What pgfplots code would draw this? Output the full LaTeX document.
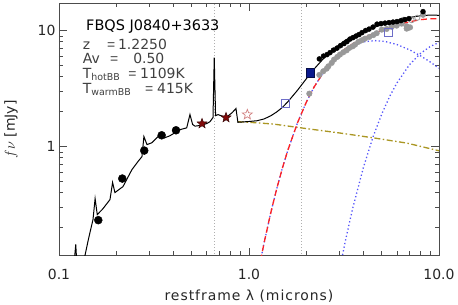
\documentclass[border=0pt]{standalone}
\usepackage{fontspec}
\setmainfont{DejaVu Sans}
\newfontfamily\arialf{Liberation Sans}
\usepackage{pgfplots}
\pgfplotsset{compat=1.18}
\definecolor{olivel}{RGB}{170,150,35}
\definecolor{bbblue}{RGB}{85,85,250}
\definecolor{dashred}{RGB}{255,35,35}
\definecolor{starred}{RGB}{130,10,10}
\definecolor{openstar}{RGB}{210,130,130}
\definecolor{opensq}{RGB}{110,110,200}
\definecolor{navysq}{RGB}{10,25,140}
\definecolor{vline}{RGB}{175,175,175}
\pgfdeclareplotmark{fstar}{%
  \pgfpathmoveto{\pgfpointpolar{90}{\pgfplotmarksize}}%
  \pgfpathlineto{\pgfpointpolar{126}{0.42\pgfplotmarksize}}%
  \pgfpathlineto{\pgfpointpolar{162}{\pgfplotmarksize}}%
  \pgfpathlineto{\pgfpointpolar{198}{0.42\pgfplotmarksize}}%
  \pgfpathlineto{\pgfpointpolar{234}{\pgfplotmarksize}}%
  \pgfpathlineto{\pgfpointpolar{270}{0.42\pgfplotmarksize}}%
  \pgfpathlineto{\pgfpointpolar{306}{\pgfplotmarksize}}%
  \pgfpathlineto{\pgfpointpolar{342}{0.42\pgfplotmarksize}}%
  \pgfpathlineto{\pgfpointpolar{18}{\pgfplotmarksize}}%
  \pgfpathlineto{\pgfpointpolar{54}{0.42\pgfplotmarksize}}%
  \pgfpathclose
  \pgfusepathqfillstroke}
\pgfdeclareplotmark{ostar}{%
  \pgfpathmoveto{\pgfpointpolar{90}{\pgfplotmarksize}}%
  \pgfpathlineto{\pgfpointpolar{126}{0.42\pgfplotmarksize}}%
  \pgfpathlineto{\pgfpointpolar{162}{\pgfplotmarksize}}%
  \pgfpathlineto{\pgfpointpolar{198}{0.42\pgfplotmarksize}}%
  \pgfpathlineto{\pgfpointpolar{234}{\pgfplotmarksize}}%
  \pgfpathlineto{\pgfpointpolar{270}{0.42\pgfplotmarksize}}%
  \pgfpathlineto{\pgfpointpolar{306}{\pgfplotmarksize}}%
  \pgfpathlineto{\pgfpointpolar{342}{0.42\pgfplotmarksize}}%
  \pgfpathlineto{\pgfpointpolar{18}{\pgfplotmarksize}}%
  \pgfpathlineto{\pgfpointpolar{54}{0.42\pgfplotmarksize}}%
  \pgfpathclose
  \pgfusepathqstroke}
\begin{document}
\begin{tikzpicture}
\begin{axis}[
  width=380bp, height=252.5bp, scale only axis,
  xmode=log, ymode=log,
  xmin=0.1, xmax=10, ymin=0.115, ymax=17.3,
  xtick={0.1,1,10}, xticklabels={0.1,1.0,10.0},
  ytick={1,10}, yticklabels={1,10},
  minor xtick={0.2,0.3,0.4,0.5,0.6,0.7,0.8,0.9,2,3,4,5,6,7,8,9},
  minor ytick={0.2,0.3,0.4,0.5,0.6,0.7,0.8,0.9,2,3,4,5,6,7,8,9},
  tick align=inside, tick pos=both,
  major tick length=8bp, minor tick length=4.5bp,
  axis line style={draw=black!70, line width=0.8bp},
  every tick/.append style={black!70, line width=0.7bp},
  ticklabel style={font=\fontsize{14}{16}\selectfont, text=black!85},
  xticklabel style={yshift=-10bp},
  xlabel={\addfontfeatures{LetterSpace=7}restframe λ (microns)}, ylabel={$f\nu$ [mJy]},
  label style={font=\fontsize{14}{16}\selectfont, text=black!85},
  xlabel style={at={(axis description cs:0.5,-0.162)}, anchor=center},
  ylabel style={at={(axis description cs:-0.126,0.5)}, anchor=center},
]
\coordinate (BL) at (rel axis cs:0,0);
\coordinate (TR) at (rel axis cs:1,1);
% vertical dotted lines
\addplot[vline, dotted, line width=1bp] coordinates {(0.66,0.1) (0.66,20)};
\addplot[vline, dotted, line width=1bp] coordinates {(1.88,0.1) (1.88,20)};
% olive power law
\addplot[olivel, line width=1.3bp, dash pattern=on 6bp off 2.5bp on 1.5bp off 2.5bp] coordinates {
(0.874,1.64)(0.9,1.633)(1.0,1.62)(1.34,1.565)(2.0,1.43)(3.0,1.31)(4.5,1.19)(6.8,1.07)(10,0.92)};
% hot BB
\addplot[bbblue, line width=1.3bp, dash pattern=on 1.3bp off 2.4bp] coordinates {
(1.15,0.104)(1.2,0.147)(1.3,0.266)(1.4,0.434)(1.5,0.655)(1.6,0.926)(1.8,1.602)(2.0,2.402)(2.2,3.261)(2.5,4.518)(2.8,5.631)(3.2,6.789)(3.6,7.545)(4.0,7.995)(4.6,8.20)(5.2,8.06)(6.0,7.59)(7.0,6.826)(8.0,6.058)(9.0,5.357)(10,4.74)};
% warm BB
\addplot[bbblue, line width=1.3bp, dash pattern=on 1.3bp off 2.4bp] coordinates {
(3.0,0.087)(3.2,0.148)(3.5,0.286)(4.0,0.660)(4.5,1.216)(5.0,1.915)(5.5,2.705)(6.0,3.528)(7.0,5.09)(8.0,6.37)(9.0,7.30)(10,7.90)};
% red dashed (sum of BBs)
\addplot[dashred, line width=1.3bp, dash pattern=on 6bp off 3.5bp] coordinates {
(1.15,0.104)(1.2,0.147)(1.3,0.266)(1.4,0.434)(1.5,0.655)(1.6,0.926)(1.8,1.602)(2.0,2.402)(2.2,3.261)(2.5,4.52)(2.8,5.63)(3.2,6.94)(3.6,7.89)(4.0,8.66)(4.6,9.55)(5.2,10.28)(6.0,11.12)(7.0,11.92)(8.0,12.43)(9.0,12.66)(10,12.64)};
% total model incl. quasar template
\addplot[black, line width=1bp] coordinates {
(0.1195,0.09)(0.1225,0.143)(0.1245,0.09)(0.1330,0.09)(0.1370,0.115)(0.1430,0.16)(0.1510,0.235)(0.1549,0.356)(0.1590,0.259)(0.1700,0.29)(0.1855,0.349)(0.1915,0.49)(0.1970,0.401)(0.2172,0.452)(0.2422,0.634)(0.2600,0.74)(0.2734,0.82)(0.2798,1.22)(0.2905,1.04)(0.3087,1.08)(0.3320,1.22)(0.3600,1.19)(0.3838,1.24)(0.4334,1.40)(0.4700,1.45)(0.4890,1.89)(0.5050,1.55)(0.5200,1.50)(0.5520,1.52)(0.6000,1.58)(0.6233,1.64)(0.6465,1.78)(0.6563,5.85)(0.6670,1.85)(0.6880,1.886)(0.7570,1.778)(0.8150,1.96)(0.8540,2.13)(0.8740,1.62)(1.0,1.645)(1.1,1.67)(1.2,1.73)(1.3,1.84)(1.4,1.99)(1.5,2.18)(1.6,2.43)(1.8,3.06)(2.0,3.83)(2.2,4.66)(2.5,5.88)(2.8,6.96)(3.2,8.23)(3.6,9.15)(4.0,9.88)(4.6,10.73)(5.2,11.43)(6.0,12.23)(7.0,12.98)(8.0,13.44)(9.0,13.62)(10.0,13.55)};
% gray spectrum
\addplot[only marks, mark=*, mark size=2.8bp, color=black!40, fill=black!40] coordinates {
(2.077,2.86)(2.345,4.15)(2.46,4.46)(2.564,4.70)(2.616,4.92)(2.725,5.27)(2.802,5.62)(2.916,5.93)(3.011,6.21)(3.135,6.50)(3.267,6.76)(3.372,7.09)(3.514,7.32)(3.614,7.57)(3.761,7.99)(3.919,8.25)(4.079,8.53)(4.298,8.82)(4.511,9.15)(4.70,9.5)(4.994,10.2)(5.305,10.34)(5.64,10.76)(5.99,11.04)(6.36,11.49)(6.76,10.9)(6.89,10.55)(7.04,10.67)(6.76,10.4)(8.24,13.7)};
\addplot[only marks, mark=o, mark size=2.6bp, color=black!40, line width=0.8bp] coordinates {
(6.49,12.4)(7.18,12.3)(7.69,12.9)};
% black spectrum
\addplot[only marks, mark=*, mark size=2.5bp, black] coordinates {
(2.345,5.70)(2.466,6.03)(2.574,6.21)(2.669,6.46)(2.784,6.79)(2.905,7.06)(3.031,7.42)(3.162,7.73)(3.28,8.04)(3.40,8.45)(3.527,8.70)(3.658,8.97)(3.793,9.24)(3.933,9.61)(4.104,10.0)(4.281,10.3)(4.494,10.72)(4.718,11.37)(4.951,11.49)(5.197,11.6)(5.456,11.72)(5.728,11.84)(6.01,11.96)(6.31,12.19)(6.62,12.44)(6.95,12.69)(8.24,14.58)};
% photometry
\addplot[only marks, mark=*, mark size=4bp, black] coordinates {
(0.161,0.232)(0.2153,0.530)(0.281,0.924)(0.347,1.251)(0.413,1.382)};
\addplot[only marks, mark=fstar, mark size=5.2bp, draw=black!60!starred, fill=starred, line width=0.5bp] coordinates {
(0.566,1.578)(0.757,1.778)};
\addplot[only marks, mark=ostar, mark size=5.2bp, draw=openstar, line width=0.7bp] coordinates {
(0.98,1.888)};
\addplot[only marks, mark=square*, mark size=4.3bp, draw=black!50!navysq, fill=navysq] coordinates {
(2.095,4.34)};
\addplot[only marks, mark=square, mark size=4bp, draw=opensq, line width=0.7bp] coordinates {
(1.547,2.38)(5.41,9.75)};
% annotations
\node[anchor=base west, font=\fontsize{14.5}{17}\selectfont, text=black] at (rel axis cs:0.0624,0.890) {FBQS J0840+3633};
\begin{scope}[every node/.style={anchor=base west, inner xsep=0pt, font=\fontsize{14}{16}\selectfont, text=black!75}]
\node at (rel axis cs:0.0624,0.817) {z};
\node at (rel axis cs:0.126,0.817) {\arialf =};
\node at (rel axis cs:0.155,0.817) {1.2250};
\node at (rel axis cs:0.0624,0.760) {Av};
\node at (rel axis cs:0.134,0.760) {\arialf =};
\node at (rel axis cs:0.195,0.760) {0.50};
\node at (rel axis cs:0.0624,0.701) {T{\fontsize{9.5}{10}\selectfont\raisebox{-2.5bp}{hotBB}}};
\node at (rel axis cs:0.182,0.701) {\arialf =};
\node at (rel axis cs:0.213,0.701) {1109K};
\node at (rel axis cs:0.0624,0.642) {T{\fontsize{9.5}{10}\selectfont\raisebox{-2.5bp}{warmBB}}};
\node at (rel axis cs:0.226,0.642) {\arialf =};
\node at (rel axis cs:0.258,0.642) {415K};
\end{scope}
\end{axis}
\pgfresetboundingbox
\path ([shift={(-59bp,-49.5bp)}]BL) rectangle ([shift={(19bp,3bp)}]TR);
\end{tikzpicture}
\end{document}
